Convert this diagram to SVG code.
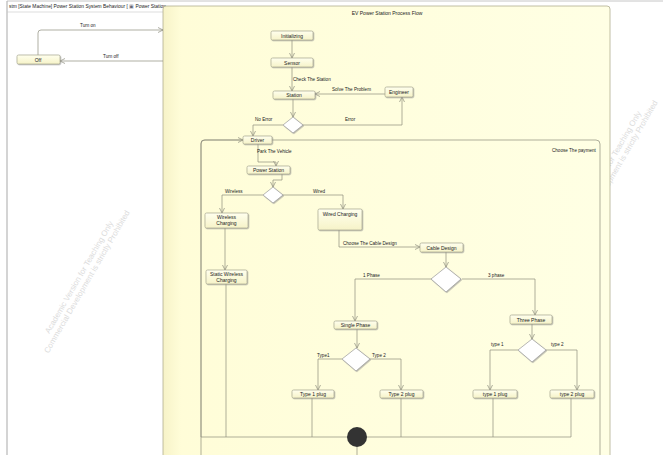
<svg xmlns="http://www.w3.org/2000/svg" width="667" height="455" viewBox="0 0 667 455">
<style>
text{font-family:"Liberation Sans",Arial,sans-serif;fill:#222;}
.t{font-size:5px;text-anchor:middle;}
.l{font-size:4.6px;}
.n{fill:url(#ng);stroke:#a8a890;stroke-width:0.7;filter:url(#sh);}
.c{fill:none;stroke:#8c8c7c;stroke-width:0.7;}
.d{fill:#fff;stroke:#999;stroke-width:0.7;filter:url(#sh);}
.wm{font-size:8px;fill:#dcdcdc;text-anchor:middle;}
</style>
<defs>
<linearGradient id="ng" x1="0" y1="0" x2="0" y2="1"><stop offset="0" stop-color="#ffffee"/><stop offset="1" stop-color="#f6f3c8"/></linearGradient>
<linearGradient id="bg" x1="0" y1="0" x2="1" y2="0"><stop offset="0" stop-color="#f7f3c8"/><stop offset="0.04" stop-color="#fffdd8"/><stop offset="1" stop-color="#ffffe4"/></linearGradient>
<filter id="sh" x="-20%" y="-20%" width="150%" height="170%"><feDropShadow dx="0.8" dy="0.8" stdDeviation="0.4" flood-color="#888" flood-opacity="0.6"/></filter>
<marker id="a" markerWidth="6" markerHeight="6" refX="5" refY="3" orient="auto" markerUnits="userSpaceOnUse"><path d="M0,0.5 L5,3 L0,5.5" fill="none" stroke="#8c8c7c" stroke-width="0.7"/></marker>
</defs>
<rect width="667" height="455" fill="#fff"/>
<g id="frame">
<line x1="7" y1="1" x2="7" y2="455" stroke="#b8b8b8" stroke-width="1.2"/>
<line x1="7" y1="1" x2="663" y2="1" stroke="#b8b8b8" stroke-width="0.8"/>
<line x1="7" y1="12" x2="163" y2="12" stroke="#c8c8c8" stroke-width="0.6"/>
<text x="9" y="8" style="font-size:4.9px">stm [State Machine] Power Station System Behaviour [ <tspan fill="#667">▣</tspan> Power Station</text>
</g>
<g id="watermarks">
<text class="wm" transform="translate(84,280) rotate(-60)"><tspan x="0" y="-3">Academic Version for Teaching Only</tspan><tspan x="0" y="6">Commercial Development is strictly Prohibited</tspan></text>
<text class="wm" transform="translate(612,170) rotate(-60)"><tspan x="0" y="-3">Academic Version for Teaching Only</tspan><tspan x="0" y="6">Commercial Development is strictly Prohibited</tspan></text>
</g>
<g id="process">
<rect x="163" y="6" width="447" height="470" rx="3" fill="url(#bg)" stroke="#b0ad90" stroke-width="0.8"/>
<text class="t" x="387" y="15">EV Power Station Process Flow</text>
</g>
<g id="payment">
<rect x="201" y="140" width="399" height="340" rx="4" fill="none" stroke="#8c8c7c" stroke-width="0.7"/>
<text class="l" x="552" y="152">Choose The payment</text>
</g>
<g id="connectors">
<path class="c" d="M38,55 V33 Q38,30 41,30 H163" marker-end="url(#a)"/>
<text class="l" x="80" y="27">Turn on</text>
<path class="c" d="M163,61 H60" marker-end="url(#a)"/>
<text class="l" x="103" y="58">Turn off</text>
<path class="c" d="M292,40 V58" marker-end="url(#a)"/>
<path class="c" d="M292,67 V91" marker-end="url(#a)"/>
<text class="l" x="293" y="81">Check The Station</text>
<path class="c" d="M385,94 H315" marker-end="url(#a)"/>
<text class="l" x="332" y="91">Solve The Problem</text>
<path class="c" d="M293,99 V117" marker-end="url(#a)"/>
<path class="c" d="M303,125 H402 V97" marker-end="url(#a)"/>
<text class="l" x="345" y="121">Error</text>
<path class="c" d="M283,125 H253 V136" marker-end="url(#a)"/>
<text class="l" x="255" y="121">No Error</text>
<path class="c" d="M258,144 V162 H276 V166" marker-end="url(#a)"/>
<text class="l" x="257" y="153">Park The Vehicle</text>
<path class="c" d="M282,174 V180 H273 V187" marker-end="url(#a)"/>
<path class="c" d="M263,195 H222 V213" marker-end="url(#a)"/>
<text class="l" x="225" y="193">Wireless</text>
<path class="c" d="M283,195 H343 V209" marker-end="url(#a)"/>
<text class="l" x="313" y="193">Wired</text>
<path class="c" d="M225,228 V270" marker-end="url(#a)"/>
<path class="c" d="M226,284 V437"/>
<path class="c" d="M339,230 V247 H420" marker-end="url(#a)"/>
<text class="l" x="343" y="245">Choose The Cable Design</text>
<path class="c" d="M446,252 V267" marker-end="url(#a)"/>
<path class="c" d="M432,279 H355 V321" marker-end="url(#a)"/>
<text class="l" x="363" y="277">1 Phase</text>
<path class="c" d="M462,279 H535 V315" marker-end="url(#a)"/>
<text class="l" x="488" y="277">3 phase</text>
<path class="c" d="M357,329 V348" marker-end="url(#a)"/>
<path class="c" d="M342,359 H318 V390" marker-end="url(#a)"/>
<text class="l" x="317" y="357">Type1</text>
<path class="c" d="M370,359 H401 V390" marker-end="url(#a)"/>
<text class="l" x="372" y="357">Type 2</text>
<path class="c" d="M532,324 V339" marker-end="url(#a)"/>
<path class="c" d="M518,350 H490 V390" marker-end="url(#a)"/>
<text class="l" x="491" y="346">type 1</text>
<path class="c" d="M546,350 H577 V390" marker-end="url(#a)"/>
<text class="l" x="551" y="346">type 2</text>
<path class="c" d="M312,398 V437"/>
<path class="c" d="M401,398 V437"/>
<path class="c" d="M493,398 V437"/>
<path class="c" d="M571,398 V437 H201"/>
<path class="c" d="M201,437 V143 Q201,140 204,140 H243" marker-end="url(#a)"/>
<path class="c" d="M357,447 V455"/>
</g>
<g id="off"><rect class="n" x="17" y="55" width="43" height="9" rx="1.5"/><text class="t" x="38" y="61.5">Off</text></g>
<g id="initializing"><rect class="n" x="271" y="31" width="42" height="9" rx="1.5"/><text class="t" x="292" y="37.5">Initializing</text></g>
<g id="sensor"><rect class="n" x="271" y="58" width="42" height="9" rx="1.5"/><text class="t" x="292" y="64.5">Sensor</text></g>
<g id="station"><rect class="n" x="273" y="91" width="42" height="8" rx="1.5"/><text class="t" x="294" y="97">Station</text></g>
<g id="engineer"><rect class="n" x="385" y="87" width="28" height="10" rx="1.5"/><text class="t" x="399" y="93.5">Engineer</text></g>
<g id="decision1"><polygon class="d" points="293,117 303,125 293,133 283,125"/></g>
<g id="driver"><rect class="n" x="243" y="136" width="29" height="8" rx="1.5"/><text class="t" x="257.5" y="142">Driver</text></g>
<g id="power-station"><rect class="n" x="247" y="166" width="43" height="8" rx="1.5"/><text class="t" x="268.5" y="172">Power Station</text></g>
<g id="decision2"><polygon class="d" points="273,187 283,195 273,203 263,195"/></g>
<g id="wireless-charging"><rect class="n" x="205" y="213" width="43" height="15" rx="1.5"/><text class="t" x="226.5" y="219">Wireless</text><text class="t" x="226.5" y="225">Charging</text></g>
<g id="wired-charging"><rect class="n" x="318" y="209" width="44" height="21" rx="1.5"/><text class="t" x="340" y="216">Wired Charging</text></g>
<g id="static-wireless"><rect class="n" x="206" y="270" width="41" height="14" rx="1.5"/><text class="t" x="226.5" y="276">Static Wireless</text><text class="t" x="226.5" y="282">Charging</text></g>
<g id="cable-design"><rect class="n" x="420" y="243" width="43" height="9" rx="1.5"/><text class="t" x="441.5" y="249.5">Cable Design</text></g>
<g id="decision3"><polygon class="d" points="446,267 461,279 446,292 431,279"/></g>
<g id="single-phase"><rect class="n" x="334" y="321" width="43" height="8" rx="1.5"/><text class="t" x="355.5" y="327">Single Phase</text></g>
<g id="three-phase"><rect class="n" x="510" y="315" width="42" height="9" rx="1.5"/><text class="t" x="531" y="321.5">Three Phase</text></g>
<g id="decision4"><polygon class="d" points="356,348 370,359 356,371 342,359"/></g>
<g id="decision5"><polygon class="d" points="532,339 546,350 532,362 518,350"/></g>
<g id="type1-plug-a"><rect class="n" x="292" y="390" width="42" height="8" rx="1.5"/><text class="t" x="313" y="396">Type 1 plug</text></g>
<g id="type2-plug-a"><rect class="n" x="380" y="390" width="43" height="8" rx="1.5"/><text class="t" x="401.5" y="396">Type 2 plug</text></g>
<g id="type1-plug-b"><rect class="n" x="473" y="390" width="44" height="8" rx="1.5"/><text class="t" x="495" y="396">type 1 plug</text></g>
<g id="type2-plug-b"><rect class="n" x="550" y="390" width="44" height="8" rx="1.5"/><text class="t" x="572" y="396">type 2 plug</text></g>
<g id="join"><circle cx="357" cy="437" r="10" fill="#333"/></g>
</svg>
